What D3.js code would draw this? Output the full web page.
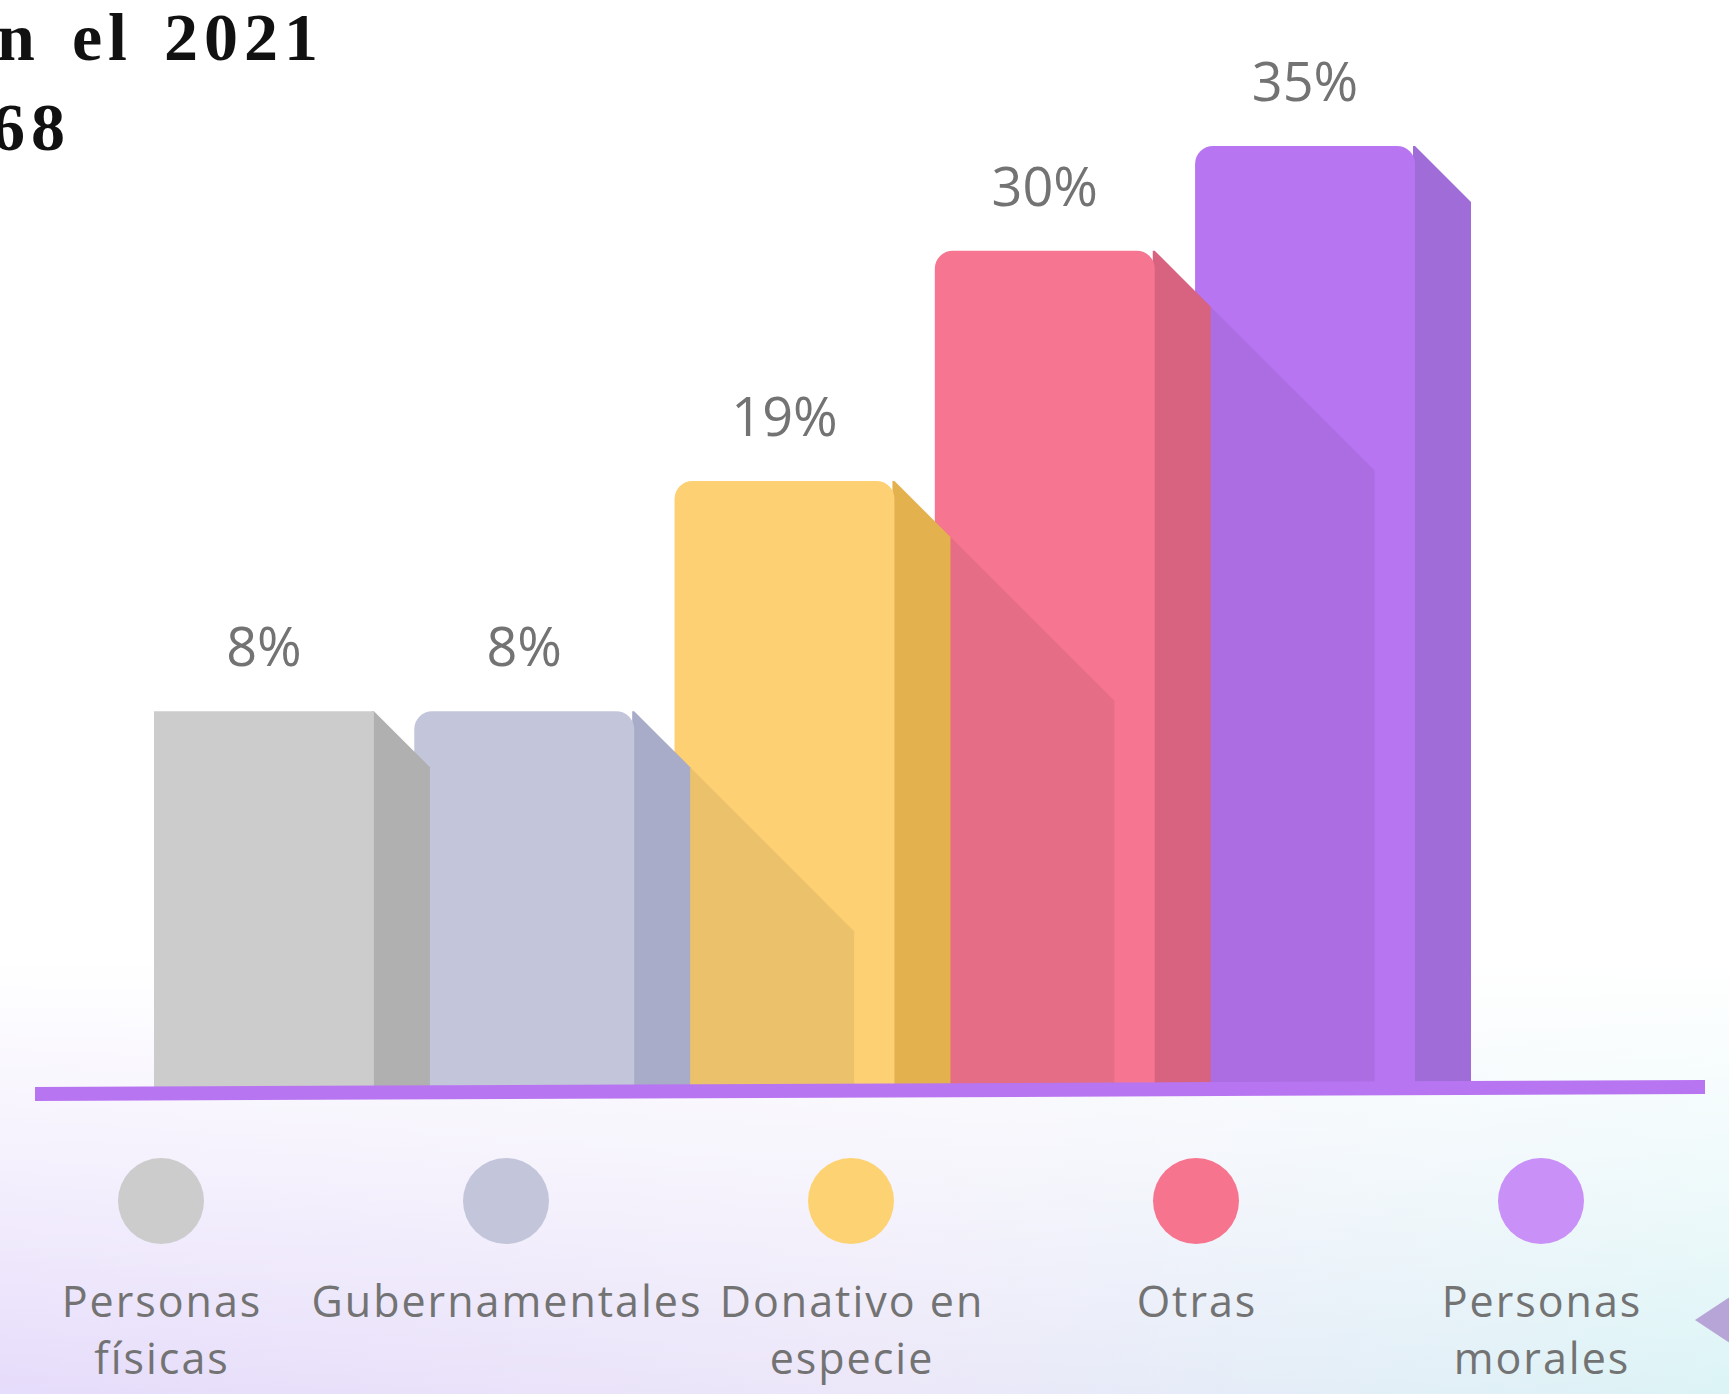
<!DOCTYPE html>
<html><head><meta charset="utf-8">
<script src="https://cdn.jsdelivr.net/npm/d3@7"></script>
<style>html,body{margin:0;padding:0;background:#fff;overflow:hidden}</style>
</head><body>
<svg id="chart" width="1729" height="1394"></svg>
<script>
// ---- data ----
const categories = ["Personas físicas", "Gubernamentales", "Donativo en especie", "Otras", "Personas morales"];
const values = [8, 8, 19, 30, 35];
const valueLabels = ["8%", "8%", "19%", "30%", "35%"];
const legendLines = [["Personas", "físicas"], ["Gubernamentales"], ["Donativo en", "especie"], ["Otras"], ["Personas", "morales"]];
const titleLines = ["n el 2021", "68"];

// ---- styles ----
const frontColors = ["#cccccc", "#c3c5da", "#fcd073", "#f67590", "#b875f2"];
const sideColors = ["#b0b0b0", "#a9acc9", "#e3b24f", "#d86380", "#a06cd8"];
const legendColors = ["#cccccc", "#c3c5da", "#fdd272", "#f7748f", "#c990f7"];
const roundedTop = [false, true, true, true, true];
const castsShadow = [false, true, true, true, false];

const W = 1729, H = 1394;
const svg = d3.select("#chart");
const defs = svg.append("defs");

// background gradients
const hg = defs.append("linearGradient").attr("id", "hg").attr("x1", 0).attr("x2", 1).attr("y1", 0).attr("y2", 0);
hg.append("stop").attr("offset", 0).attr("stop-color", "#e6dcfb");
hg.append("stop").attr("offset", 0.5).attr("stop-color", "#ece7f9");
hg.append("stop").attr("offset", 1).attr("stop-color", "#dcf4f6");
const vg = defs.append("linearGradient").attr("id", "vg").attr("x1", 0).attr("x2", 0).attr("y1", 0).attr("y2", 1);
vg.append("stop").attr("offset", 0).attr("stop-color", "#fff").attr("stop-opacity", 1);
vg.append("stop").attr("offset", 0.45).attr("stop-color", "#fff").attr("stop-opacity", 0.6);
vg.append("stop").attr("offset", 1).attr("stop-color", "#fff").attr("stop-opacity", 0);

svg.append("rect").attr("width", W).attr("height", H).attr("fill", "#fff");
svg.append("rect").attr("x", 0).attr("y", 960).attr("width", W).attr("height", H - 960).attr("fill", "url(#hg)");
svg.append("rect").attr("x", 0).attr("y", 960).attr("width", W).attr("height", H - 960).attr("fill", "url(#vg)");

// ---- scales ----
const baseY = 1088;
const x = d3.scaleBand().domain(categories).range([154, 1415]).paddingInner(0.155).paddingOuter(0);
const y = d3.scaleLinear().domain([-10, 35]).range([baseY, 146]);
const depth = 56;   // side face depth
const r = 18;       // corner radius
const bottom = baseY + 3;

function frontPath(x0, x1, top, bot, rounded) {
  const rr = rounded ? r : 0;
  const p = d3.path();
  p.moveTo(x0, bot);
  p.lineTo(x0, top + rr);
  if (rr) p.arcTo(x0, top, x0 + rr, top, rr);
  p.lineTo(x1 - rr, top);
  if (rr) p.arcTo(x1, top, x1, top + rr, rr);
  p.lineTo(x1, bot);
  p.closePath();
  return p.toString();
}

const bw = x.bandwidth();
const order = d3.range(categories.length).reverse(); // draw right to left
const barsG = svg.append("g");

order.forEach(i => {
  const c = categories[i];
  const x0 = x(c), x1 = x0 + bw, top = y(values[i]);
  const g = barsG.append("g");
  // shadow onto next bar
  if (castsShadow[i] && i + 1 < categories.length) {
    const nc = categories[i + 1];
    const cid = "clip" + i;
    defs.append("clipPath").attr("id", cid)
      .append("path").attr("d", frontPath(x(nc), x(nc) + bw, y(values[i + 1]), bottom, true));
    g.append("path")
      .attr("clip-path", `url(#${cid})`)
      .attr("d", d3.line()([[x1, top], [x1 + bw, top + bw], [x1 + bw, bottom], [x1, bottom]]))
      .attr("fill", "#000").attr("fill-opacity", 0.065);
  }
  // side face
  g.append("path")
    .attr("d", d3.line()([[x1 - 2, top], [x1, top], [x1 + depth, top + depth], [x1 + depth, bottom], [x1 - 2, bottom]]))
    .attr("fill", sideColors[i]);
  // front face
  g.append("path")
    .attr("d", frontPath(x0, x1, top, bottom, roundedTop[i]))
    .attr("fill", frontColors[i]);
});

// baseline
svg.append("path")
  .attr("d", d3.line()([[35, 1094], [1705, 1087]]))
  .attr("stroke", "#b875f2").attr("stroke-width", 14).attr("fill", "none");

// value labels
svg.append("g").selectAll("text").data(categories).join("text")
  .attr("x", c => x(c) + bw / 2)
  .attr("y", (c, i) => y(values[i]) - 45)
  .attr("text-anchor", "middle")
  .attr("font-family", "'Open Sans', sans-serif")
  .attr("font-size", 54)
  .attr("fill", "#737373")
  .text((c, i) => valueLabels[i]);

// legend
const lx = d3.scalePoint().domain(categories).range([161, 1541]);
const lg = svg.append("g");
lg.selectAll("circle").data(categories).join("circle")
  .attr("cx", c => lx(c)).attr("cy", 1201).attr("r", 43)
  .attr("fill", (c, i) => legendColors[i]);
lg.selectAll("text").data(categories).join("text")
  .attr("text-anchor", "middle")
  .attr("font-family", "'Open Sans', sans-serif")
  .attr("font-size", 43)
  .attr("letter-spacing", 2)
  .attr("fill", "#737373")
  .each(function (c, i) {
    const t = d3.select(this);
    legendLines[i].forEach((line, k) => {
      t.append("tspan").attr("x", lx(c) + 1).attr("y", 1317 + k * 57).text(line);
    });
  });

// title (cropped at the left edge, as in the source)
const tg = svg.append("g")
  .attr("font-family", "'Liberation Serif', serif")
  .attr("font-weight", "bold")
  .attr("font-size", 68)
  .attr("letter-spacing", 6)
  .attr("word-spacing", 8)
  .attr("fill", "#111");
tg.append("text").attr("x", 324).attr("y", 60).attr("text-anchor", "end").text(titleLines[0]);
tg.append("text").attr("x", 71).attr("y", 150).attr("text-anchor", "end").text(titleLines[1]);

// decorative triangle at right edge
svg.append("path")
  .attr("d", d3.line()([[1695, 1320], [1745, 1287], [1745, 1353]]))
  .attr("fill", "#b7a5d8");
</script>
</body></html>
